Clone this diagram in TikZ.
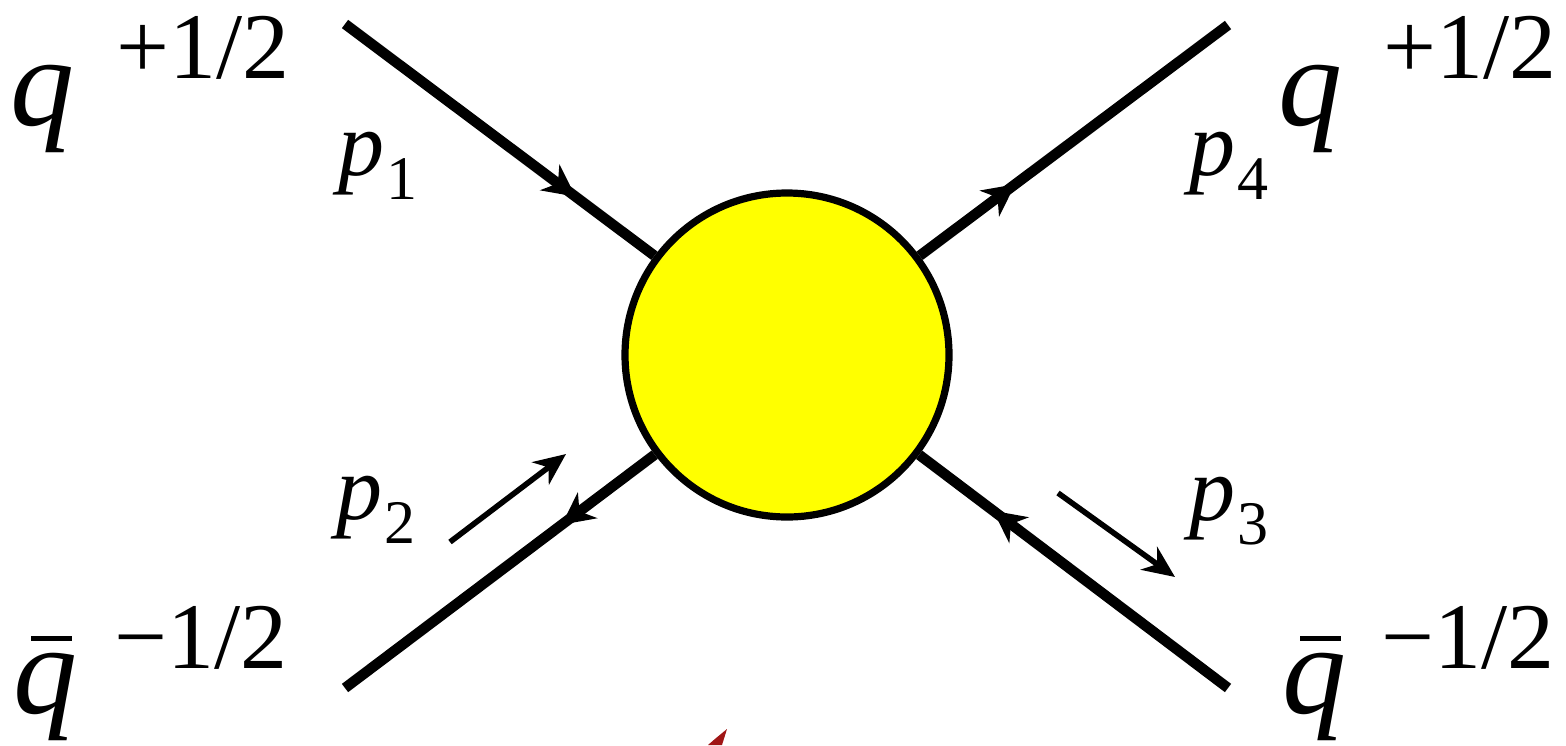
\documentclass[tikz,border=0pt]{standalone}
\usepackage{fontspec}
\setmainfont{Liberation Serif}
\usetikzlibrary{arrows.meta,decorations.markings}

\definecolor{blobyellow}{RGB}{255,255,0}
\definecolor{markred}{RGB}{160,22,22}
\newcommand\qbar{\rlap{\kern0.14em\rule[0.565em]{0.32em}{0.04em}}\textit{q}}
\newcommand\mom[1]{\textit{p}\kern0.02em\raisebox{-12pt}{\fontsize{31}{31}\selectfont #1}}

\begin{document}
\begin{tikzpicture}[x=0.5pt, y=-0.5pt,
  leg/.style={line width=5.2pt},
  legin/.style={leg, postaction={decorate}, decoration={markings,
    mark=at position #1 with {\arrow{Stealth[length=16pt,width=16pt,inset=5pt]}}}},
  legout/.style={leg, postaction={decorate}, decoration={markings,
    mark=at position #1 with {\arrowreversed{Stealth[length=16pt,width=16pt,inset=5pt]}}}},
  momentum/.style={line width=2.8pt, -{Stealth[length=16pt,width=14pt,inset=5pt]}},
  quark/.style={font=\fontsize{64}{64}\selectfont, anchor=base west, inner sep=0pt},
  spin/.style={font=\fontsize{47}{47}\selectfont, anchor=base west, inner sep=0pt},
  plabel/.style={font=\fontsize{46}{46}\selectfont, anchor=base west, inner sep=0pt}]
  \useasboundingbox (0,0) rectangle (1566,745);

  \node[circle, draw, line width=3.6pt, fill=blobyellow, minimum size=162pt, inner sep=0pt] (blob) at (787,355) {};

  % external legs
  \coordinate (end1) at (345,24);
  \coordinate (end4) at (1228,25);
  \coordinate (end2) at (345,688);
  \coordinate (end3) at (1228,688);
  \draw[legin=0.745] (end1) -- (blob);
  \draw[legout=0.69] (end4) -- (blob);
  \draw[legout=0.70] (end2) -- (blob);
  \draw[legin=0.76] (end3) -- (blob);

  % momentum arrows
  \coordinate (m2a) at (450,542);
  \coordinate (m2b) at (566,454);
  \coordinate (m3a) at (1058,493);
  \coordinate (m3b) at (1175,577);
  \draw[momentum] (m2a) -- (m2b);
  \draw[momentum] (m3a) -- (m3b);

  \node[quark] (q1) at (10,125) {\textit{q}};
  \node[spin] (s1) at (116,78) {+1/2};
  \node[quark] (q4) at (1278,125) {\textit{q}};
  \node[spin] (s4) at (1383,78) {+1/2};
  \node[quark] (q2) at (13,713) {\qbar};
  \node[spin] (s2) at (114,668) {−1/2};
  \node[quark] (q3) at (1282,713) {\qbar};
  \node[spin] (s3) at (1381,668) {−1/2};

  \node[plabel] (p1) at (338,175) {\mom{1}};
  \node[plabel] (p4) at (1189,175) {\mom{4}};
  \node[plabel] (p2) at (336,519) {\mom{2}};
  \node[plabel] (p3) at (1189,520) {\mom{3}};

  \fill[markred] (708,745) .. controls (716,738) .. (727,729) -- (722,745) -- cycle;
\end{tikzpicture}
\end{document}
